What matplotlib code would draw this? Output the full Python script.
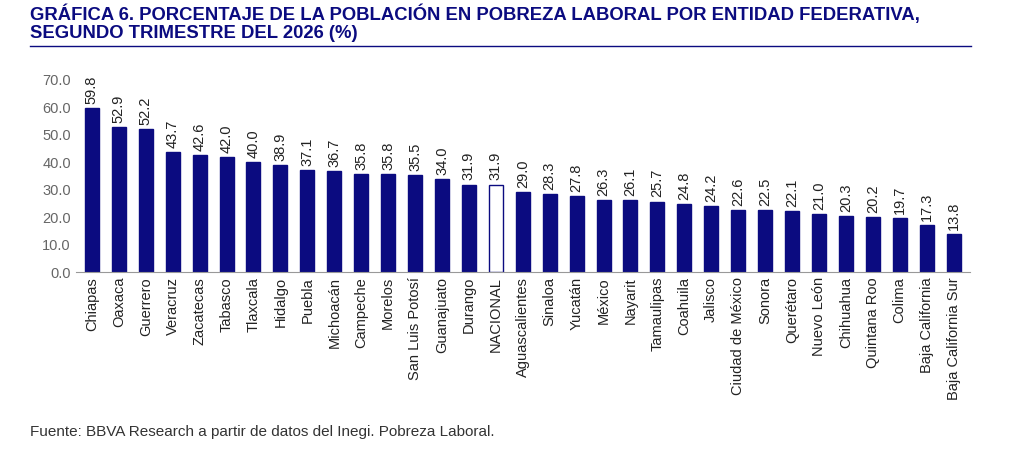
import matplotlib
matplotlib.use("Agg")
import matplotlib.pyplot as plt

plt.rcParams["font.family"] = ["Liberation Sans", "DejaVu Sans"]

states = ["Chiapas", "Oaxaca", "Guerrero", "Veracruz", "Zacatecas", "Tabasco", "Tlaxcala",
          "Hidalgo", "Puebla", "Michoacán", "Campeche", "Morelos", "San Luis Potosí",
          "Guanajuato", "Durango", "NACIONAL", "Aguascalientes", "Sinaloa", "Yucatán",
          "México", "Nayarit", "Tamaulipas", "Coahuila", "Jalisco", "Ciudad de México",
          "Sonora", "Querétaro", "Nuevo León", "Chihuahua", "Quintana Roo", "Colima",
          "Baja California", "Baja California Sur"]
values = [59.8, 52.9, 52.2, 43.7, 42.6, 42.0, 40.0, 38.9, 37.1, 36.7, 35.8, 35.8, 35.5,
          34.0, 31.9, 31.9, 29.0, 28.3, 27.8, 26.3, 26.1, 25.7, 24.8, 24.2, 22.6, 22.5,
          22.1, 21.0, 20.3, 20.2, 19.7, 17.3, 13.8]
yticks = [0, 10, 20, 30, 40, 50, 60, 70]

navy = "#0b0b80"
fig = plt.figure(figsize=(10.24, 4.62), dpi=100)
ax = fig.add_axes([0.074, 0.411, 0.873, 0.416])

colors = ["white" if s == "NACIONAL" else navy for s in states]
x = range(len(states))
ax.bar(x, values, width=0.52, color=colors, edgecolor=navy, linewidth=1)
for i, v in zip(x, values):
    ax.text(i, v + 1.5, f"{v:.1f}", rotation=90, ha="center", va="bottom",
            fontsize=10.5, color="#222222")

ax.set_xlim(-0.6, len(states) - 0.4)
ax.set_ylim(0, 70)
ax.set_yticks(yticks)
ax.set_yticklabels([f"{t:.1f}" for t in yticks], fontsize=10.5, color="#666666")
ax.set_xticks(list(x))
ax.set_xticklabels(states, rotation=90, fontsize=10.5, color="#222222")
ax.tick_params(length=0)
for s in ["top", "right", "left"]:
    ax.spines[s].set_visible(False)
ax.spines["bottom"].set_color("#999999")

fig.text(0.029, 0.99, "GRÁFICA 6. PORCENTAJE DE LA POBLACIÓN EN POBREZA LABORAL POR ENTIDAD FEDERATIVA,\nSEGUNDO TRIMESTRE DEL 2026 (%)",
         ha="left", va="top", fontsize=13.3, fontweight="bold", color="#0b0b80", linespacing=1.1)
fig.add_artist(plt.Line2D([0.029, 0.948], [0.9, 0.9], color="#0b0b80", linewidth=1))
fig.text(0.029, 0.065, "Fuente: BBVA Research a partir de datos del Inegi. Pobreza Laboral.",
         ha="left", va="center", fontsize=11, color="#333333")

fig.savefig("out.png", dpi=100)
